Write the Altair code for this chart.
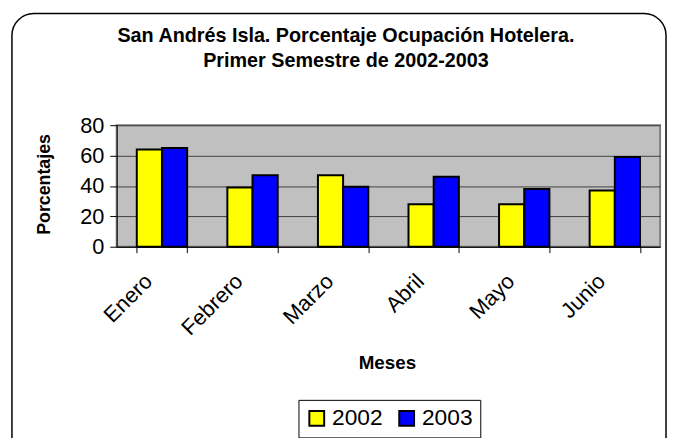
import altair as alt
import pandas as pd

meses = ["Enero", "Febrero", "Marzo", "Abril", "Mayo", "Junio"]
v2002 = [64, 39, 47, 28, 28, 37]
v2003 = [65, 47, 39.5, 46, 38, 59]
series = ["2002", "2003"]
colors = ["#FFFF00", "#0000FF"]
title_lines = ["San Andrés Isla. Porcentaje Ocupación Hotelera.",
               "Primer Semestre de 2002-2003"]
x_title = "Meses"
y_title = "Porcentajes"

rows = []
for i, m in enumerate(meses):
    rows.append({"Mes": m, "Año": "2002", "Valor": v2002[i]})
    rows.append({"Mes": m, "Año": "2003", "Valor": v2003[i]})
df = pd.DataFrame(rows)

FONT = "Liberation Sans"

bars = alt.Chart(df).mark_bar(stroke="black", strokeWidth=2).encode(
    x=alt.X("Mes:N", sort=meses,
            scale=alt.Scale(paddingInner=0.444, paddingOuter=0.222),
            axis=alt.Axis(title=None, labelAngle=-45, labelFontSize=22,
                          labelFont=FONT, labelColor="black", tickBand="extent",
                          tickColor="black", tickSize=6, domainColor="black",
                          labelPadding=18, labelOffset=-21, grid=False)),
    xOffset=alt.XOffset("Año:N", sort=series),
    y=alt.Y("Valor:Q", scale=alt.Scale(domain=[0, 80], nice=False),
            axis=alt.Axis(title=None, values=[0, 20, 40, 60, 80],
                          labelFontSize=22, labelFont=FONT, labelColor="black",
                          tickColor="black", tickSize=7, domainColor="black",
                          labelPadding=6, gridColor="#404040", gridWidth=1)),
    color=alt.Color("Año:N", sort=series,
                    scale=alt.Scale(domain=series, range=colors),
                    legend=alt.Legend(title=None, orient="none", direction="horizontal",
                                      legendX=184, legendY=278,
                                      symbolType="square", symbolSize=225,
                                      symbolStrokeColor="black", symbolStrokeWidth=2,
                                      labelFontSize=23, labelFont=FONT, labelColor="black",
                                      strokeColor="black", padding=7,
                                      columnPadding=12, labelOffset=4)),
)

frame = alt.Chart(pd.DataFrame({"a": [0]})).mark_rect(
    fillOpacity=0, stroke="black", strokeWidth=1.5, cornerRadius=22, clip=False
).encode(
    x=alt.value(-106), x2=alt.value(556),
    y=alt.value(-113), y2=alt.value(340),
)

title = alt.Chart(pd.DataFrame({"t": ["\n".join(title_lines)]})).mark_text(
    font=FONT, fontSize=20, fontWeight="bold", color="black",
    align="center", baseline="alphabetic", lineBreak="\n", lineHeight=25, clip=False
).encode(text="t:N", x=alt.value(232), y=alt.value(-84))

xt = alt.Chart(pd.DataFrame({"t": [x_title]})).mark_text(
    font=FONT, fontSize=19, fontWeight="bold", color="black",
    align="center", baseline="alphabetic", clip=False
).encode(text="t:N", x=alt.value(274), y=alt.value(247))

yt = alt.Chart(pd.DataFrame({"t": [y_title]})).mark_text(
    font=FONT, fontSize=18, fontWeight="bold", color="black",
    align="center", baseline="middle", angle=270, clip=False
).encode(text="t:N", x=alt.value(-72), y=alt.value(60))

chart = alt.layer(frame, bars, title, xt, yt).properties(
    width=550, height=123,
    padding={"left": 110, "top": 116, "right": 8, "bottom": 191},
    autosize=alt.AutoSizeParams(type="none"),
    background="white",
).configure_view(
    fill="#C0C0C0", stroke="#808080", strokeWidth=2
)

chart.save("out.html", embed_options={"renderer": "svg", "actions": False})
